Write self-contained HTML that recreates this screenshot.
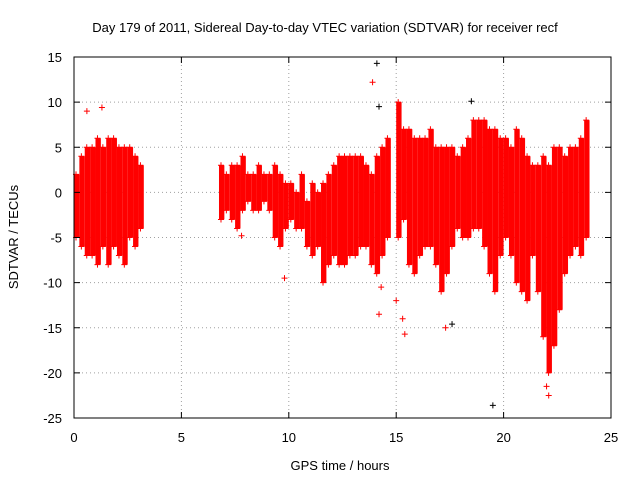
<!DOCTYPE html>
<html><head><meta charset="utf-8"><style>
body{margin:0;background:#fff}
svg text{font-family:"Liberation Sans",sans-serif;font-size:13px;fill:#000}
</style></head><body>
<svg id="chart" width="640" height="480">
<text x="325" y="32" text-anchor="middle">Day 179 of 2011, Sidereal Day-to-day VTEC variation (SDTVAR) for receiver recf</text>
<text x="340" y="470" text-anchor="middle">GPS time / hours</text>
<text transform="translate(18,237) rotate(-90)" text-anchor="middle">SDTVAR / TECUs</text>
<g id="grid"></g><g id="marks"></g><g id="axes"></g>
</svg>
<script>
const xTicks=[0,5,10,15,20,25];
const yTicks=[15,10,5,0,-5,-10,-15,-20,-25];
const binTimes=[0,0.25,0.5,0.75,1,1.25,1.5,1.75,2,2.25,2.5,2.75,3,6.75,7,7.25,7.5,7.75,8,8.25,8.5,8.75,9,9.25,9.5,9.75,10,10.25,10.5,10.75,11,11.25,11.5,11.75,12,12.25,12.5,12.75,13,13.25,13.5,13.75,14,14.25,14.5,15,15.25,15.5,15.75,16,16.25,16.5,16.75,17,17.25,17.5,17.75,18,18.25,18.5,18.75,19,19.25,19.5,19.75,20,20.25,20.5,20.75,21,21.25,21.5,21.75,22,22.25,22.5,22.75,23,23.25,23.5,23.75];
const binLow=[-5,-6,-7,-7,-8,-6,-8,-6,-7,-8,-5,-6,-4,-3,-2,-3,-4,-2,-1,-2,-2,-1,-2,-5,-6,-4,-3,-4,-4,-6,-7,-6,-10,-8,-7,-8,-8,-7,-7,-6,-6,-8,-9,-7,-5,-5,-3,-8,-9,-7,-6,-6,-8,-11,-9,-6,-4,-5,-5,-4,-4,-6,-9,-11,-7,-5,-7,-10,-11,-12,-7,-11,-16,-20,-17,-13,-9,-7,-6,-7,-5];
const binHigh=[2,4,5,5,6,5,6,6,5,5,5,4,3,3,2,3,3,4,2,2,3,2,2,3,2,1,1,0,2,-1,1,0,1,2,3,4,4,4,4,4,3,2,4,5,6,10,7,7,6,6,6,7,5,5,5,5,4,5,6,8,8,8,7,7,6,6,5,7,6,4,3,3,4,3,5,5,4,5,5,6,8];
const outT=[0.6,1.3,14.1,13.9,14.2,14.3,14.2,15.4,15.3,15.0,17.3,17.6,18.5,19.5,22.1,9.8,7.8,22.0];
const outV=[9,9.4,14.3,12.2,9.5,-10.5,-13.5,-15.7,-14,-12,-15,-14.6,10.1,-23.6,-22.5,-9.5,-4.8,-21.5];
const outBlack=[0,0,1,0,1,0,0,0,0,0,0,1,1,1,0,0,0,0];
const L=74,R=611,T=57,B=418;
const sx=t=>L+(t-0)/25*(R-L), sy=v=>T+(15-v)/40*(B-T);
const NS="http://www.w3.org/2000/svg";
function mk(tag,attrs,parent){const e=document.createElementNS(NS,tag);for(const k in attrs)e.setAttribute(k,attrs[k]);document.getElementById(parent).appendChild(e);return e;}
xTicks.forEach(t=>{
  const g=mk('line',{x1:sx(t),x2:sx(t),y1:T,y2:B,stroke:'#a0a0a0','stroke-dasharray':'1,3'},'grid');
  
  
  const tk=mk('text',{x:sx(t),y:B+24,'text-anchor':'middle'},'axes');tk.textContent=t;
  
  
  mk('line',{x1:sx(t),x2:sx(t),y1:B,y2:B-6,stroke:'#000'},'axes');
  mk('line',{x1:sx(t),x2:sx(t),y1:T,y2:T+6,stroke:'#000'},'axes');
});
yTicks.forEach(v=>{
  const g=mk('line',{x1:L,x2:R,y1:sy(v),y2:sy(v),stroke:'#a0a0a0','stroke-dasharray':'1,3'},'grid');
  
  
  const tk=mk('text',{x:62,y:sy(v)+5,'text-anchor':'end'},'axes');tk.textContent=v;
  
  
  mk('line',{x1:L,x2:L+6,y1:sy(v),y2:sy(v),stroke:'#000'},'axes');
  mk('line',{x1:R,x2:R-6,y1:sy(v),y2:sy(v),stroke:'#000'},'axes');
});
const fr=mk('rect',{x:L,y:T,width:R-L,height:B-T,fill:'none',stroke:'#000'},'axes');


binTimes.forEach((t,i)=>{
  const x0=sx(t),x1=sx(t+0.25);
  const r=mk('rect',{x:x0,y:sy(binHigh[i]),width:x1-x0,height:sy(binLow[i])-sy(binHigh[i]),fill:'#ff0000'},'marks');
  
  
  [binHigh[i],binLow[i]].forEach(v=>{
    const p=mk('path',{d:`M${x0-1},${sy(v)}h6M${x0+2},${sy(v)-3}v6`,stroke:'#ff0000','stroke-width':1},'marks');
    
    
  });
});
outT.forEach((t,i)=>{
  const x=sx(t),y=sy(outV[i]);
  const p=mk('path',{d:`M${x-3},${y}h6M${x},${y-3}v6`,stroke:outBlack[i]?'#000':'#ff0000','stroke-width':1},'marks');
  
  
});
</script>
</body></html>
